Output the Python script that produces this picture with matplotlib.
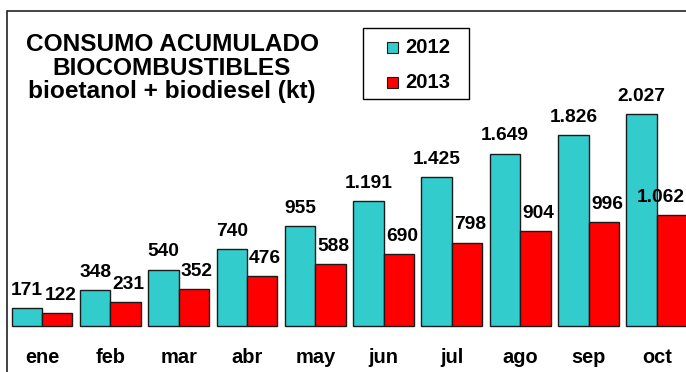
import matplotlib
matplotlib.use("Agg")
import matplotlib.pyplot as plt
from matplotlib.patches import Rectangle

plt.rcParams['font.family'] = ['Liberation Sans', 'DejaVu Sans']
plt.rcParams['font.weight'] = 'bold'

# consumo acumulado de biocombustibles (kt)
meses = ["ene", "feb", "mar", "abr", "may", "jun", "jul", "ago", "sep", "oct"]
consumo_2012 = [171, 348, 540, 740, 955, 1191, 1425, 1649, 1826, 2027]
consumo_2013 = [122, 231, 352, 476, 588, 690, 798, 904, 996, 1062]
etiquetas_2012 = ["171", "348", "540", "740", "955", "1.191", "1.425", "1.649", "1.826", "2.027"]
etiquetas_2013 = ["122", "231", "352", "476", "588", "690", "798", "904", "996", "1.062"]
series = ["2012", "2013"]
colores = ["#33CCCC", "#FF0000"]

W, H = 686, 372
fig = plt.figure(figsize=(W / 100, H / 100), dpi=100)
ax = fig.add_axes([0, 0, 1, 1])
ax.axis("off")

def px(x0, y0):
    # pixel (desde arriba a la izquierda) -> fraccion de figura
    return x0 / W, 1 - y0 / H

ancho = 0.446
x = list(range(len(meses)))
ax.bar([i - ancho for i in x], consumo_2012, width=ancho, align="edge",
       color=colores[0], edgecolor="#1a1a1a", linewidth=1.0)
ax.bar(x, consumo_2013, width=ancho, align="edge",
       color=colores[1], edgecolor="#1a1a1a", linewidth=1.0)

ax.set_xlim(-0.6147, 9.425)
ax.set_ylim(-439.8, 3116.6)

# etiquetas de valor encima de cada barra
for i in x:
    ax.annotate(etiquetas_2012[i], (i - ancho / 2, consumo_2012[i]),
                xytext=(0, 9.4), textcoords="offset points",
                ha="center", va="baseline", fontsize=13.8, fontweight="bold")
    dx = 2.2 if i < len(meses) - 1 else -8.6
    ax.annotate(etiquetas_2013[i], (i + ancho / 2, consumo_2013[i]),
                xytext=(dx, 9.4), textcoords="offset points",
                ha="center", va="baseline", fontsize=13.8, fontweight="bold")

# meses bajo las barras
for i, m in enumerate(meses):
    ax.text(i, 1 - 363 / H, m, transform=ax.get_xaxis_transform(),
            ha="center", va="baseline", fontsize=14.4, fontweight="bold")

# titulo
titulo = ["CONSUMO ACUMULADO", "BIOCOMBUSTIBLES", "bioetanol + biodiesel (kt)"]
for linea, base in zip(titulo, [51, 75, 98]):
    fig.text(*px(172, base), linea, ha="center", va="baseline",
             fontsize=17.6, fontweight="bold")

# leyenda
lx, ly = px(363, 99)
fig.patches.append(Rectangle((lx, ly), 106 / W, 71 / H, transform=fig.transFigure,
                             facecolor="white", edgecolor="black", linewidth=1.0))
for nombre, color, base in zip(series, colores, [53, 88]):
    sx, sy = px(387, base)
    fig.patches.append(Rectangle((sx, sy), 11 / W, 11 / H, transform=fig.transFigure,
                                 facecolor=color, edgecolor="#1a1a1a", linewidth=0.8))
    fig.text(*px(405, base), nombre, ha="left", va="baseline",
             fontsize=14.6, fontweight="bold")

# marco del grafico
fig.patches.append(Rectangle((7 / W, -0.2), 2, 1.2 - 11 / H, transform=fig.transFigure,
                             fill=False, edgecolor="#222222", linewidth=1.2))

fig.savefig("out.png", dpi=100)
